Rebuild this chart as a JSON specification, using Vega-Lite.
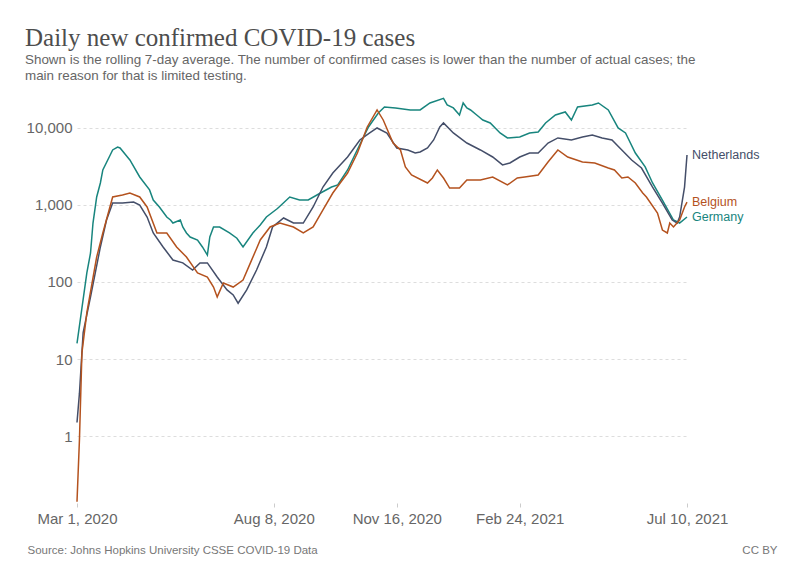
{
  "$schema": "https://vega.github.io/schema/vega-lite/v6.json",
  "width": 610,
  "height": 405,
  "autosize": {"type": "none"},
  "padding": {"left": 77, "top": 98, "right": 113, "bottom": 68},
  "background": "white",
  "config": {"view": {"stroke": null}, "font": "Liberation Sans"},
  "title": {
    "text": "Daily new confirmed COVID-19 cases",
    "subtitle": ["Shown is the rolling 7-day average. The number of confirmed cases is lower than the number of actual cases; the", "main reason for that is limited testing."],
    "anchor": "start",
    "frame": "group",
    "dx": -52,
    "offset": 13,
    "font": "Liberation Serif",
    "fontSize": 25,
    "fontWeight": "normal",
    "color": "#4d4d4d",
    "subtitleFont": "Liberation Sans",
    "subtitleFontSize": 13.4,
    "subtitleColor": "#666666",
    "subtitleLineHeight": 16,
    "subtitlePadding": 2
  },
  "data": {"values": [
    {"date": "2020-03-01", "country": "Germany", "cases": 16},
    {"date": "2020-03-09", "country": "Germany", "cases": 131},
    {"date": "2020-03-12", "country": "Germany", "cases": 238},
    {"date": "2020-03-14", "country": "Germany", "cases": 583},
    {"date": "2020-03-17", "country": "Germany", "cases": 1270},
    {"date": "2020-03-20", "country": "Germany", "cases": 1930},
    {"date": "2020-03-22", "country": "Germany", "cases": 2850},
    {"date": "2020-03-28", "country": "Germany", "cases": 4460},
    {"date": "2020-03-30", "country": "Germany", "cases": 5180},
    {"date": "2020-04-03", "country": "Germany", "cases": 5660},
    {"date": "2020-04-05", "country": "Germany", "cases": 5500},
    {"date": "2020-04-11", "country": "Germany", "cases": 4200},
    {"date": "2020-04-13", "country": "Germany", "cases": 3840},
    {"date": "2020-04-21", "country": "Germany", "cases": 2310},
    {"date": "2020-04-29", "country": "Germany", "cases": 1570},
    {"date": "2020-05-02", "country": "Germany", "cases": 1160},
    {"date": "2020-05-07", "country": "Germany", "cases": 942},
    {"date": "2020-05-13", "country": "Germany", "cases": 698},
    {"date": "2020-05-16", "country": "Germany", "cases": 638},
    {"date": "2020-05-18", "country": "Germany", "cases": 583},
    {"date": "2020-05-24", "country": "Germany", "cases": 638},
    {"date": "2020-05-26", "country": "Germany", "cases": 518},
    {"date": "2020-05-29", "country": "Germany", "cases": 433},
    {"date": "2020-06-01", "country": "Germany", "cases": 384},
    {"date": "2020-06-07", "country": "Germany", "cases": 351},
    {"date": "2020-06-11", "country": "Germany", "cases": 285},
    {"date": "2020-06-15", "country": "Germany", "cases": 224},
    {"date": "2020-06-17", "country": "Germany", "cases": 384},
    {"date": "2020-06-20", "country": "Germany", "cases": 518},
    {"date": "2020-06-25", "country": "Germany", "cases": 518},
    {"date": "2020-07-03", "country": "Germany", "cases": 433},
    {"date": "2020-07-09", "country": "Germany", "cases": 370},
    {"date": "2020-07-14", "country": "Germany", "cases": 285},
    {"date": "2020-07-22", "country": "Germany", "cases": 433},
    {"date": "2020-07-28", "country": "Germany", "cases": 550},
    {"date": "2020-08-02", "country": "Germany", "cases": 698},
    {"date": "2020-08-11", "country": "Germany", "cases": 900},
    {"date": "2020-08-21", "country": "Germany", "cases": 1270},
    {"date": "2020-08-29", "country": "Germany", "cases": 1160},
    {"date": "2020-09-05", "country": "Germany", "cases": 1160},
    {"date": "2020-09-15", "country": "Germany", "cases": 1430},
    {"date": "2020-09-24", "country": "Germany", "cases": 1710},
    {"date": "2020-09-29", "country": "Germany", "cases": 1820},
    {"date": "2020-10-07", "country": "Germany", "cases": 2850},
    {"date": "2020-10-16", "country": "Germany", "cases": 5660},
    {"date": "2020-10-24", "country": "Germany", "cases": 10300},
    {"date": "2020-11-01", "country": "Germany", "cases": 15670},
    {"date": "2020-11-06", "country": "Germany", "cases": 18750},
    {"date": "2020-11-15", "country": "Germany", "cases": 18200},
    {"date": "2020-11-27", "country": "Germany", "cases": 17130},
    {"date": "2020-12-05", "country": "Germany", "cases": 17130},
    {"date": "2020-12-13", "country": "Germany", "cases": 21100},
    {"date": "2020-12-24", "country": "Germany", "cases": 24200},
    {"date": "2020-12-27", "country": "Germany", "cases": 19900},
    {"date": "2021-01-01", "country": "Germany", "cases": 18200},
    {"date": "2021-01-06", "country": "Germany", "cases": 14750},
    {"date": "2021-01-09", "country": "Germany", "cases": 21100},
    {"date": "2021-01-12", "country": "Germany", "cases": 18200},
    {"date": "2021-01-15", "country": "Germany", "cases": 17130},
    {"date": "2021-01-20", "country": "Germany", "cases": 14750},
    {"date": "2021-01-25", "country": "Germany", "cases": 12700},
    {"date": "2021-01-31", "country": "Germany", "cases": 11620},
    {"date": "2021-02-08", "country": "Germany", "cases": 8610},
    {"date": "2021-02-14", "country": "Germany", "cases": 7420},
    {"date": "2021-02-24", "country": "Germany", "cases": 7640},
    {"date": "2021-03-04", "country": "Germany", "cases": 8610},
    {"date": "2021-03-11", "country": "Germany", "cases": 8870},
    {"date": "2021-03-17", "country": "Germany", "cases": 11620},
    {"date": "2021-03-25", "country": "Germany", "cases": 14750},
    {"date": "2021-04-02", "country": "Germany", "cases": 16140},
    {"date": "2021-04-07", "country": "Germany", "cases": 12700},
    {"date": "2021-04-12", "country": "Germany", "cases": 18750},
    {"date": "2021-04-24", "country": "Germany", "cases": 19900},
    {"date": "2021-04-29", "country": "Germany", "cases": 21100},
    {"date": "2021-05-07", "country": "Germany", "cases": 17130},
    {"date": "2021-05-15", "country": "Germany", "cases": 10000},
    {"date": "2021-05-21", "country": "Germany", "cases": 8610},
    {"date": "2021-05-29", "country": "Germany", "cases": 4730},
    {"date": "2021-06-06", "country": "Germany", "cases": 3120},
    {"date": "2021-06-12", "country": "Germany", "cases": 1930},
    {"date": "2021-06-20", "country": "Germany", "cases": 1160},
    {"date": "2021-06-29", "country": "Germany", "cases": 638},
    {"date": "2021-07-04", "country": "Germany", "cases": 583},
    {"date": "2021-07-10", "country": "Germany", "cases": 698},
    {"date": "2020-03-01", "country": "Netherlands", "cases": 1.5},
    {"date": "2020-03-03", "country": "Netherlands", "cases": 3.6},
    {"date": "2020-03-06", "country": "Netherlands", "cases": 22},
    {"date": "2020-03-12", "country": "Netherlands", "cases": 64},
    {"date": "2020-03-20", "country": "Netherlands", "cases": 285},
    {"date": "2020-03-25", "country": "Netherlands", "cases": 638},
    {"date": "2020-03-30", "country": "Netherlands", "cases": 1060},
    {"date": "2020-04-07", "country": "Netherlands", "cases": 1060},
    {"date": "2020-04-16", "country": "Netherlands", "cases": 1090},
    {"date": "2020-04-21", "country": "Netherlands", "cases": 1000},
    {"date": "2020-04-27", "country": "Netherlands", "cases": 698},
    {"date": "2020-05-02", "country": "Netherlands", "cases": 433},
    {"date": "2020-05-10", "country": "Netherlands", "cases": 285},
    {"date": "2020-05-18", "country": "Netherlands", "cases": 193},
    {"date": "2020-05-26", "country": "Netherlands", "cases": 177},
    {"date": "2020-06-03", "country": "Netherlands", "cases": 143},
    {"date": "2020-06-09", "country": "Netherlands", "cases": 177},
    {"date": "2020-06-15", "country": "Netherlands", "cases": 177},
    {"date": "2020-06-23", "country": "Netherlands", "cases": 116},
    {"date": "2020-07-01", "country": "Netherlands", "cases": 79},
    {"date": "2020-07-06", "country": "Netherlands", "cases": 68},
    {"date": "2020-07-10", "country": "Netherlands", "cases": 53},
    {"date": "2020-07-17", "country": "Netherlands", "cases": 79},
    {"date": "2020-07-25", "country": "Netherlands", "cases": 143},
    {"date": "2020-08-02", "country": "Netherlands", "cases": 285},
    {"date": "2020-08-07", "country": "Netherlands", "cases": 518},
    {"date": "2020-08-16", "country": "Netherlands", "cases": 678},
    {"date": "2020-08-24", "country": "Netherlands", "cases": 583},
    {"date": "2020-09-01", "country": "Netherlands", "cases": 583},
    {"date": "2020-09-09", "country": "Netherlands", "cases": 942},
    {"date": "2020-09-17", "country": "Netherlands", "cases": 1710},
    {"date": "2020-09-25", "country": "Netherlands", "cases": 2600},
    {"date": "2020-10-07", "country": "Netherlands", "cases": 4200},
    {"date": "2020-10-17", "country": "Netherlands", "cases": 6990},
    {"date": "2020-10-25", "country": "Netherlands", "cases": 8610},
    {"date": "2020-10-31", "country": "Netherlands", "cases": 10000},
    {"date": "2020-11-08", "country": "Netherlands", "cases": 8610},
    {"date": "2020-11-16", "country": "Netherlands", "cases": 5500},
    {"date": "2020-11-25", "country": "Netherlands", "cases": 5180},
    {"date": "2020-12-01", "country": "Netherlands", "cases": 4730},
    {"date": "2020-12-05", "country": "Netherlands", "cases": 4880},
    {"date": "2020-12-11", "country": "Netherlands", "cases": 5500},
    {"date": "2020-12-16", "country": "Netherlands", "cases": 6990},
    {"date": "2020-12-21", "country": "Netherlands", "cases": 10300},
    {"date": "2020-12-24", "country": "Netherlands", "cases": 11620},
    {"date": "2021-01-01", "country": "Netherlands", "cases": 8610},
    {"date": "2021-01-12", "country": "Netherlands", "cases": 6380},
    {"date": "2021-01-23", "country": "Netherlands", "cases": 5180},
    {"date": "2021-02-02", "country": "Netherlands", "cases": 4200},
    {"date": "2021-02-10", "country": "Netherlands", "cases": 3310},
    {"date": "2021-02-16", "country": "Netherlands", "cases": 3510},
    {"date": "2021-02-24", "country": "Netherlands", "cases": 4200},
    {"date": "2021-03-04", "country": "Netherlands", "cases": 4730},
    {"date": "2021-03-11", "country": "Netherlands", "cases": 4730},
    {"date": "2021-03-19", "country": "Netherlands", "cases": 6380},
    {"date": "2021-03-27", "country": "Netherlands", "cases": 7420},
    {"date": "2021-04-07", "country": "Netherlands", "cases": 6990},
    {"date": "2021-04-16", "country": "Netherlands", "cases": 7640},
    {"date": "2021-04-24", "country": "Netherlands", "cases": 8110},
    {"date": "2021-05-02", "country": "Netherlands", "cases": 7420},
    {"date": "2021-05-10", "country": "Netherlands", "cases": 6990},
    {"date": "2021-05-18", "country": "Netherlands", "cases": 5180},
    {"date": "2021-05-26", "country": "Netherlands", "cases": 3840},
    {"date": "2021-06-03", "country": "Netherlands", "cases": 3020},
    {"date": "2021-06-12", "country": "Netherlands", "cases": 1710},
    {"date": "2021-06-20", "country": "Netherlands", "cases": 1060},
    {"date": "2021-06-28", "country": "Netherlands", "cases": 638},
    {"date": "2021-07-02", "country": "Netherlands", "cases": 583},
    {"date": "2021-07-04", "country": "Netherlands", "cases": 698},
    {"date": "2021-07-08", "country": "Netherlands", "cases": 1710},
    {"date": "2021-07-10", "country": "Netherlands", "cases": 4460},
    {"date": "2020-03-01", "country": "Belgium", "cases": 0.14},
    {"date": "2020-03-03", "country": "Belgium", "cases": 0.9},
    {"date": "2020-03-05", "country": "Belgium", "cases": 12},
    {"date": "2020-03-09", "country": "Belgium", "cases": 40},
    {"date": "2020-03-17", "country": "Belgium", "cases": 211},
    {"date": "2020-03-22", "country": "Belgium", "cases": 433},
    {"date": "2020-03-30", "country": "Belgium", "cases": 1270},
    {"date": "2020-04-07", "country": "Belgium", "cases": 1350},
    {"date": "2020-04-13", "country": "Belgium", "cases": 1430},
    {"date": "2020-04-21", "country": "Belgium", "cases": 1270},
    {"date": "2020-04-27", "country": "Belgium", "cases": 942},
    {"date": "2020-05-05", "country": "Belgium", "cases": 433},
    {"date": "2020-05-13", "country": "Belgium", "cases": 433},
    {"date": "2020-05-21", "country": "Belgium", "cases": 285},
    {"date": "2020-05-29", "country": "Belgium", "cases": 211},
    {"date": "2020-06-07", "country": "Belgium", "cases": 131},
    {"date": "2020-06-15", "country": "Belgium", "cases": 116},
    {"date": "2020-06-20", "country": "Belgium", "cases": 86},
    {"date": "2020-06-23", "country": "Belgium", "cases": 64},
    {"date": "2020-06-28", "country": "Belgium", "cases": 97},
    {"date": "2020-07-06", "country": "Belgium", "cases": 86},
    {"date": "2020-07-14", "country": "Belgium", "cases": 106},
    {"date": "2020-07-20", "country": "Belgium", "cases": 177},
    {"date": "2020-07-28", "country": "Belgium", "cases": 351},
    {"date": "2020-08-05", "country": "Belgium", "cases": 518},
    {"date": "2020-08-13", "country": "Belgium", "cases": 583},
    {"date": "2020-08-24", "country": "Belgium", "cases": 518},
    {"date": "2020-09-01", "country": "Belgium", "cases": 433},
    {"date": "2020-09-09", "country": "Belgium", "cases": 518},
    {"date": "2020-09-17", "country": "Belgium", "cases": 861},
    {"date": "2020-09-25", "country": "Belgium", "cases": 1430},
    {"date": "2020-10-07", "country": "Belgium", "cases": 2600},
    {"date": "2020-10-15", "country": "Belgium", "cases": 4730},
    {"date": "2020-10-23", "country": "Belgium", "cases": 10300},
    {"date": "2020-10-31", "country": "Belgium", "cases": 17130},
    {"date": "2020-11-05", "country": "Belgium", "cases": 12700},
    {"date": "2020-11-13", "country": "Belgium", "cases": 6380},
    {"date": "2020-11-19", "country": "Belgium", "cases": 5180},
    {"date": "2020-11-23", "country": "Belgium", "cases": 3120},
    {"date": "2020-11-28", "country": "Belgium", "cases": 2450},
    {"date": "2020-12-11", "country": "Belgium", "cases": 1930},
    {"date": "2020-12-15", "country": "Belgium", "cases": 2240},
    {"date": "2020-12-19", "country": "Belgium", "cases": 2850},
    {"date": "2020-12-24", "country": "Belgium", "cases": 2240},
    {"date": "2020-12-29", "country": "Belgium", "cases": 1660},
    {"date": "2021-01-06", "country": "Belgium", "cases": 1660},
    {"date": "2021-01-12", "country": "Belgium", "cases": 2110},
    {"date": "2021-01-23", "country": "Belgium", "cases": 2110},
    {"date": "2021-02-02", "country": "Belgium", "cases": 2310},
    {"date": "2021-02-14", "country": "Belgium", "cases": 1820},
    {"date": "2021-02-22", "country": "Belgium", "cases": 2240},
    {"date": "2021-02-28", "country": "Belgium", "cases": 2310},
    {"date": "2021-03-11", "country": "Belgium", "cases": 2450},
    {"date": "2021-03-19", "country": "Belgium", "cases": 3620},
    {"date": "2021-03-27", "country": "Belgium", "cases": 5180},
    {"date": "2021-04-04", "country": "Belgium", "cases": 4200},
    {"date": "2021-04-16", "country": "Belgium", "cases": 3620},
    {"date": "2021-04-26", "country": "Belgium", "cases": 3510},
    {"date": "2021-05-07", "country": "Belgium", "cases": 3020},
    {"date": "2021-05-12", "country": "Belgium", "cases": 2850},
    {"date": "2021-05-18", "country": "Belgium", "cases": 2240},
    {"date": "2021-05-23", "country": "Belgium", "cases": 2310},
    {"date": "2021-05-29", "country": "Belgium", "cases": 1930},
    {"date": "2021-06-04", "country": "Belgium", "cases": 1430},
    {"date": "2021-06-07", "country": "Belgium", "cases": 1270},
    {"date": "2021-06-16", "country": "Belgium", "cases": 787},
    {"date": "2021-06-20", "country": "Belgium", "cases": 473},
    {"date": "2021-06-24", "country": "Belgium", "cases": 433},
    {"date": "2021-06-26", "country": "Belgium", "cases": 583},
    {"date": "2021-06-29", "country": "Belgium", "cases": 518},
    {"date": "2021-07-04", "country": "Belgium", "cases": 638},
    {"date": "2021-07-08", "country": "Belgium", "cases": 942},
    {"date": "2021-07-10", "country": "Belgium", "cases": 1090}
  ]},
  "layer": [
    {
      "mark": {"type": "line", "strokeWidth": 1.5},
      "encoding": {
        "x": {
          "field": "date", "type": "temporal",
          "scale": {"type": "utc", "domain": [1583020800000, 1625875200000]},
          "axis": {
            "values": [1583020800000, 1596844800000, 1605484800000, 1614124800000, 1625875200000],
            "labelExpr": "utcFormat(datum.value, '%b %-d, %Y')",
            "grid": false, "domain": false, "ticks": true, "tickSize": 4, "tickColor": "#cccccc",
            "labelFontSize": 15, "labelColor": "#666666", "labelPadding": 4,
            "labelFlush": false, "labelOverlap": false,
            "title": "Source: Johns Hopkins University CSSE COVID-19 Data",
            "titleFontSize": 11.5, "titleFontWeight": "normal", "titleColor": "#777777",
            "titleAlign": "left", "titleAnchor": "start", "titleX": -50, "titleY": 47, "titleBaseline": "middle"
          }
        },
        "y": {
          "field": "cases", "type": "quantitative",
          "scale": {"type": "log", "domain": [0.135, 24500], "nice": false},
          "axis": {
            "values": [1, 10, 100, 1000, 10000], "format": ",",
            "grid": true, "gridDash": [3, 3], "gridColor": "#dddddd",
            "domain": false, "ticks": false,
            "labelFontSize": 15, "labelColor": "#666666", "labelPadding": 5,
            "title": null
          }
        },
        "color": {
          "field": "country", "type": "nominal",
          "scale": {"domain": ["Netherlands", "Belgium", "Germany"], "range": ["#444e69", "#b4521e", "#18857e"]},
          "legend": null
        }
      }
    },
    {
      "transform": [{"filter": "time(datum.date) == utc(2021, 6, 10)"}],
      "mark": {"type": "text", "align": "left", "baseline": "middle", "dx": 5, "fontSize": 12.5},
      "encoding": {
        "x": {
          "field": "date", "type": "temporal",
          "axis": {
            "orient": "bottom", "labels": false, "ticks": false, "domain": false, "grid": false,
            "title": "CC BY", "titleFontSize": 11.5, "titleFontWeight": "normal", "titleColor": "#777777",
            "titleAlign": "right", "titleX": 700, "titleY": 47, "titleBaseline": "middle"
          }
        },
        "y": {"field": "cases", "type": "quantitative"},
        "text": {"field": "country"},
        "color": {"field": "country", "type": "nominal", "legend": null}
      }
    }
  ],
  "resolve": {"axis": {"x": "independent"}}
}
